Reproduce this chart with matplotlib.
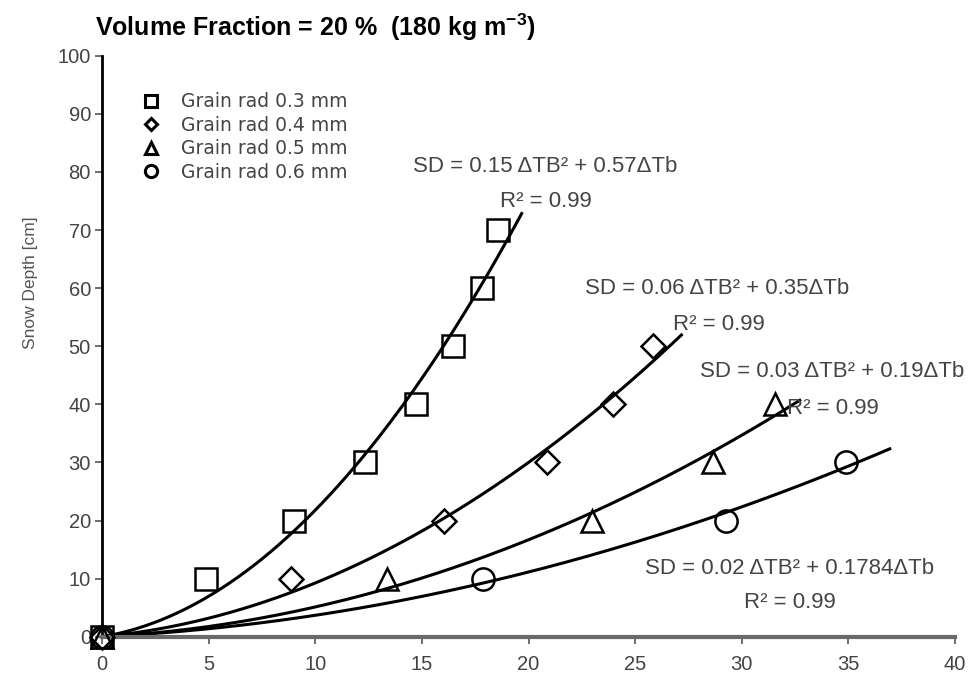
import numpy as np
import matplotlib
matplotlib.use("Agg")
import matplotlib.pyplot as plt
from matplotlib.lines import Line2D

plt.rcParams['font.family'] = ['Liberation Sans', 'DejaVu Sans']
plt.rcParams['mathtext.fontset'] = 'custom'
plt.rcParams['mathtext.rm'] = 'Liberation Sans'
plt.rcParams['mathtext.bf'] = 'Liberation Sans:bold'

# ---- data ----
labels = ["Grain rad 0.3 mm", "Grain rad 0.4 mm", "Grain rad 0.5 mm", "Grain rad 0.6 mm"]

dtb_03 = [0, 4.9, 9.0, 12.33, 14.72, 16.47, 17.8, 18.58]
sd_03 = [0, 10, 20, 30, 40, 50, 60, 70]

dtb_04 = [0, 8.86, 16.03, 20.85, 23.97, 25.85]
sd_04 = [0, 10, 20, 30, 40, 50]

dtb_05 = [0, 13.35, 22.96, 28.66, 31.55]
sd_05 = [0, 10, 20, 30, 40]

dtb_06 = [0, 17.88, 29.28, 34.9]
sd_06 = [0, 10, 20, 30]

# extent of each fitted trend line along the x axis
fit_xmax = [19.68, 27.17, 32.72, 36.94]

eq_lines = ["SD = 0.15 ΔTB² + 0.57ΔTb",
            "SD = 0.06 ΔTB² + 0.35ΔTb",
            "SD = 0.03 ΔTB² + 0.19ΔTb",
            "SD = 0.02 ΔTB² + 0.1784ΔTb"]
r2_lines = ["R² = 0.99", "R² = 0.99", "R² = 0.99", "R² = 0.99"]

xticks = [0, 5, 10, 15, 20, 25, 30, 35, 40]
yticks = [0, 10, 20, 30, 40, 50, 60, 70, 80, 90, 100]

# ---- figure ----
W, H = 969, 685
fig = plt.figure(figsize=(W/100, H/100), dpi=100)
ax = fig.add_axes([102/W, 1-636.7/H, 853/W, 581/H])

series = [(dtb_03, sd_03), (dtb_04, sd_04), (dtb_05, sd_05), (dtb_06, sd_06)]
markers = ['s', 'D', '^', 'o']
msizes = [15.5, 12, 16, 16]

# trend lines: 2nd-order polynomial fit through the origin (as in the spreadsheet)
for (x, y), xm in zip(series, fit_xmax):
    x = np.asarray(x, float); y = np.asarray(y, float)
    A = np.column_stack([x**2, x])
    coef, *_ = np.linalg.lstsq(A, y, rcond=None)
    xx = np.linspace(0, xm, 200)
    ax.plot(xx, coef[0]*xx**2 + coef[1]*xx, color='black', lw=2.2, zorder=2)

for (x, y), m, ms, lab in zip(series, markers, msizes, labels):
    ax.plot(x, y, linestyle='none', marker=m, ms=ms, mfc='none', mec='black',
            mew=1.8, clip_on=False, zorder=3, label=lab)

ax.set_xlim(0, 40)
ax.set_ylim(0, 100)
ax.set_xticks(xticks)
ax.set_yticks(yticks)

for s in ['top', 'right']:
    ax.spines[s].set_visible(False)
ax.spines['left'].set_linewidth(2.0)
ax.spines['left'].set_color('black')
ax.spines['bottom'].set_linewidth(3.0)
ax.spines['bottom'].set_color('#6a6a6a')

ax.tick_params(axis='both', direction='out', length=5, width=1.2, colors='#555555',
               labelsize=14.5, labelcolor='#444444')
ax.tick_params(axis='y', pad=3)
ax.tick_params(axis='x', pad=8)

ax.set_ylabel("Snow Depth [cm]", fontsize=12.5, color='#555555')
ax.yaxis.set_label_coords(-0.075, 0.61)

fig.text(95/W, 1-27/H, r"Volume Fraction = 20 %  (180 kg m$^{\mathbf{-3}}$)",
         fontsize=18, fontweight='bold', ha='left', va='center')

# equation annotations (centre positions in figure pixels)
eq_pos = [(545, 167), (717, 289), (832, 371), (790, 568)]
r2_pos = [(546, 202), (719, 325), (833, 408), (790, 602)]
for txt, (px, py) in zip(eq_lines, eq_pos):
    fig.text(px/W, 1-py/H, txt, fontsize=16, color='#444444', ha='center', va='center')
for txt, (px, py) in zip(r2_lines, r2_pos):
    fig.text(px/W, 1-py/H, txt, fontsize=16, color='#444444', ha='center', va='center')

handles = [Line2D([], [], linestyle='none', marker=m, ms=ms*0.55, mfc='none',
                  mec='black', mew=2.2) for m, ms in zip(markers, msizes)]
leg = ax.legend(handles, labels, loc='upper left', bbox_to_anchor=(0.038, 0.95),
                frameon=False, prop={'family': 'DejaVu Sans', 'size': 13.5},
                handletextpad=1.1, labelspacing=0.24, handlelength=1.0, borderaxespad=0)
for t in leg.get_texts():
    t.set_color('#444444')

fig.savefig("out.png", dpi=100)
